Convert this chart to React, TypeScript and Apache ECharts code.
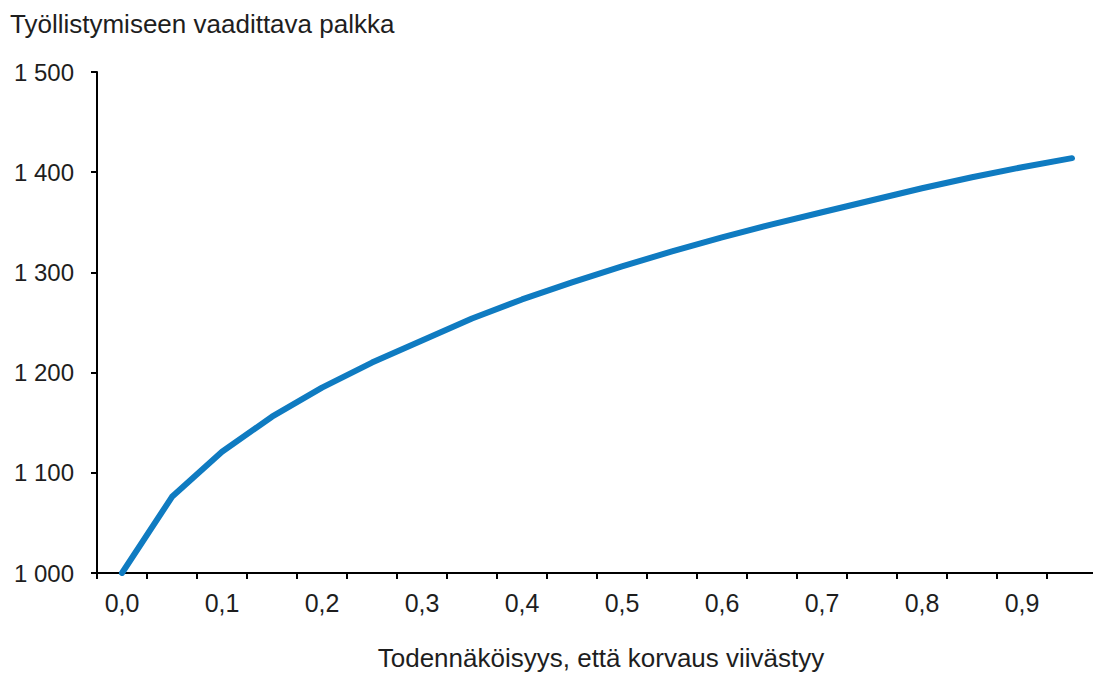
import React, { useEffect, useRef } from "react";
import * as echarts from "echarts";

const categories = [0, 0.05, 0.1, 0.15, 0.2, 0.25, 0.3, 0.35, 0.4, 0.45, 0.5, 0.55, 0.6, 0.65, 0.7, 0.75, 0.8, 0.85, 0.9, 0.95];
const wage = [1000, 1076, 1121, 1156, 1185, 1210, 1232, 1254, 1273, 1290, 1306, 1321, 1335, 1348, 1360, 1372, 1384, 1395, 1405, 1414];
const title = "Työllistymiseen vaadittava palkka";
const xName = "Todennäköisyys, että korvaus viivästyy";

const FONT = "'Liberation Sans', Arial, sans-serif";
const TXT = "#1e1e1e";
const FS = 26;

export default function App() {
  const ref = useRef<HTMLDivElement>(null);
  useEffect(() => {
    if (!ref.current) return;
    const chart = echarts.init(ref.current, null, { renderer: "svg" });
    chart.setOption({
      animation: false,
      title: {
        text: title,
        left: 2,
        top: 3,
        padding: 0,
        textStyle: { fontFamily: FONT, fontSize: FS, fontWeight: "normal", color: TXT },
      },
      grid: { left: 89, right: 4, top: 64, bottom: 104, containLabel: false },
      xAxis: {
        type: "category",
        data: categories.map(String),
        boundaryGap: true,
        name: xName,
        nameLocation: "middle",
        nameGap: 72,
        nameTextStyle: { fontFamily: FONT, fontSize: FS, color: TXT, padding: [0, 0, 0, 8] },
        axisLine: { lineStyle: { color: "#000", width: 2 } },
        axisTick: { show: true, interval: 0, length: 6, lineStyle: { color: "#000", width: 2 } },
        axisLabel: {
          interval: 1,
          margin: 17,
          fontFamily: FONT,
          fontSize: 25,
          color: TXT,
          formatter: (v: string) => Number(v).toFixed(1).replace(".", ","),
        },
        splitLine: { show: false },
      },
      yAxis: {
        type: "value",
        min: 1000,
        max: 1500,
        interval: 100,
        axisLine: { show: true, lineStyle: { color: "#000", width: 2 } },
        axisTick: { show: true, length: 6, lineStyle: { color: "#000", width: 2 } },
        axisLabel: {
          margin: 23,
          fontFamily: FONT,
          fontSize: 24,
          color: TXT,
          formatter: (v: number) => String(v).replace(/\B(?=(\d{3})+(?!\d))/g, " "),
        },
        splitLine: { show: false },
      },
      series: [
        {
          type: "line",
          data: wage,
          showSymbol: false,
          symbol: "none",
          lineStyle: { color: "#0f7bc1", width: 6, cap: "round", join: "round" },
        },
      ],
    });
    return () => chart.dispose();
  }, []);
  return <div ref={ref} style={{ width: 1093, height: 669 }} />;
}
